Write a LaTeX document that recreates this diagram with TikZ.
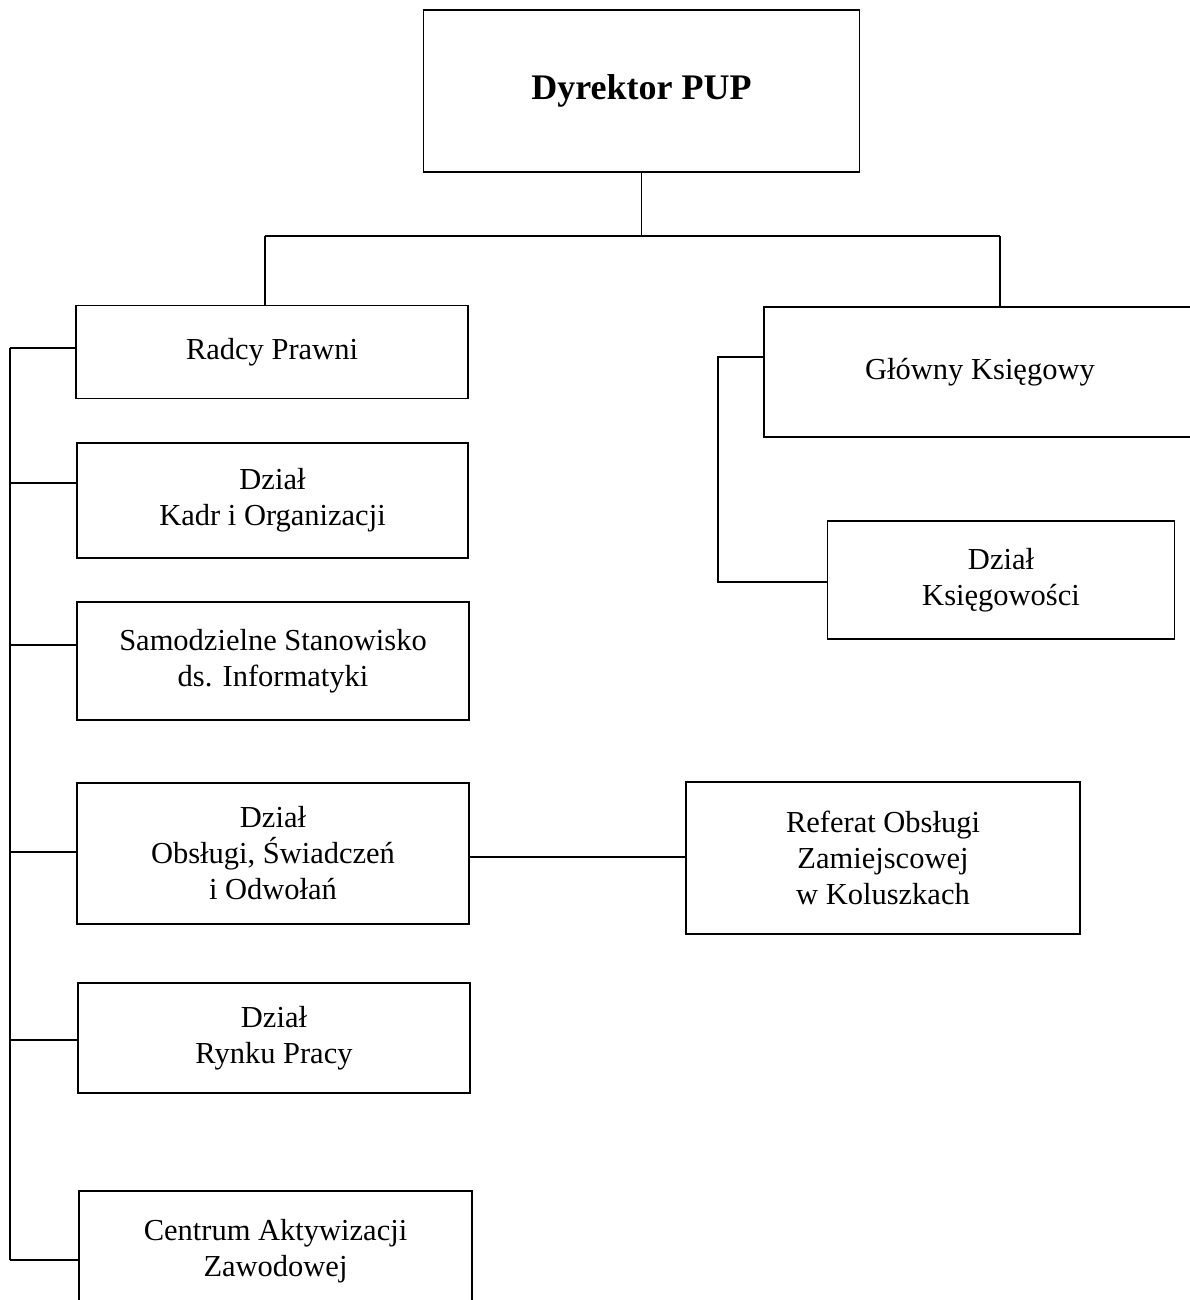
\documentclass[tikz,border=0pt]{standalone}
\usepackage{fontspec}
\setmainfont{Liberation Serif}
\begin{document}
\begin{tikzpicture}[x=1pt,y=-1pt,
  box/.style={draw,line width=1.8pt,rectangle,inner sep=0pt,align=center,
    font=\fontsize{30.5}{36}\selectfont},
  conn/.style={line width=1.8pt}]
\useasboundingbox (0,0) rectangle (1190,1300);
\fill[white] (0,0) rectangle (1190,1300);
\clip (0,0) rectangle (1190,1300);
% boxes
\node[box,minimum width=436pt,minimum height=162pt,font=\fontsize{36}{40}\selectfont\bfseries] (dir) at (641.5,91) {\raisebox{-4pt}{Dyrektor PUP}};
\node[box,minimum width=392pt,minimum height=93pt] (radcy) at (272,352) {Radcy Prawni};
\node[box,minimum width=391pt,minimum height=115pt] (kadr) at (272.5,500.5) {Dział\\Kadr i Organizacji};
\node[box,minimum width=392pt,minimum height=118pt] (samo) at (273,661) {Samodzielne Stanowisko\\ds. Informatyki};
\node[box,minimum width=392pt,minimum height=141pt] (obs) at (273,853.5) {Dział\\Obsługi, Świadczeń\\i Odwołań};
\node[box,minimum width=392pt,minimum height=110pt] (rynek) at (274,1038) {Dział\\Rynku Pracy};
\node[box,minimum width=393pt,minimum height=120pt] (centrum) at (275.5,1251) {Centrum Aktywizacji\\Zawodowej};
\node[box,minimum width=432pt,minimum height=130pt] (glowny) at (980,372) {Główny Księgowy};
\node[box,minimum width=347pt,minimum height=118pt] (ksieg) at (1001,580) {Dział\\Księgowości};
\node[box,minimum width=394pt,minimum height=152pt] (ref) at (883,858) {Referat Obsługi\\Zamiejscowej\\w Koluszkach};
% top connectors
\coordinate (hl) at (265,236);
\coordinate (hr) at (1000,236);
\draw[conn] (dir.south) -- (dir.south |- hl);
\draw[conn] (hl) -- (hr);
\draw[conn] (hl) -- (hl |- radcy.north);
\draw[conn] (hr) -- (hr |- glowny.north);
% left bus
\coordinate (bt) at (10,348);
\coordinate (bb) at (10,1260);
\draw[conn] (bt) -- (bb);
\draw[conn] (bt) -- (radcy.west |- bt);
\draw[conn] (10,483) -- (kadr.west |- 0,483);
\draw[conn] (10,645) -- (samo.west |- 0,645);
\draw[conn] (10,852) -- (obs.west |- 0,852);
\draw[conn] (10,1040) -- (rynek.west |- 0,1040);
\draw[conn] (bb) -- (centrum.west |- bb);
% right bracket
\coordinate (rt) at (718,357);
\coordinate (rb) at (718,582);
\draw[conn] (glowny.west |- rt) -- (rt) -- (rb) -- (ksieg.west |- rb);
% Obsługi to Referat
\draw[conn] (obs.east |- 0,857) -- (ref.west |- 0,857);
\end{tikzpicture}
\end{document}
